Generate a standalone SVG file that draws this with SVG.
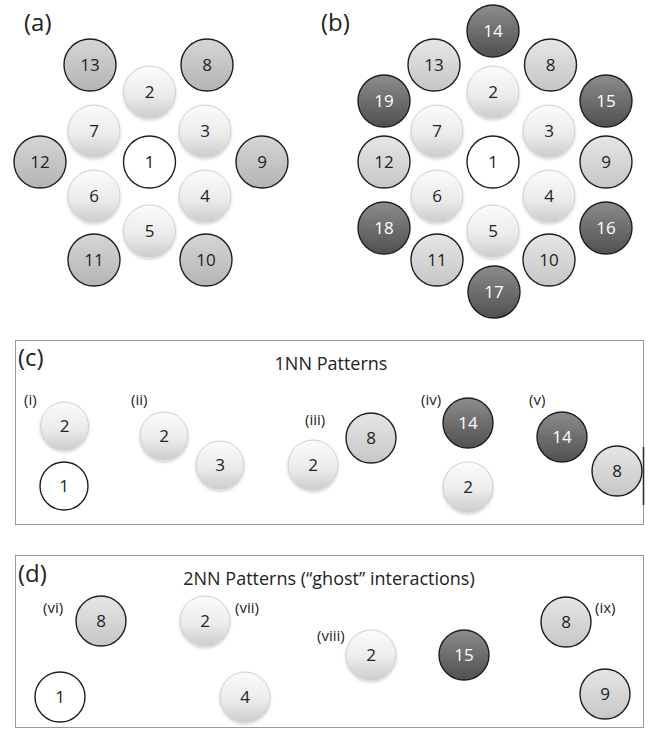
<svg xmlns="http://www.w3.org/2000/svg" width="650" height="733" viewBox="0 0 650 733">
<defs>
<linearGradient id="gLight" x1="0" y1="0" x2="0" y2="1">
<stop offset="0" stop-color="#fbfbfb"/>
<stop offset="0.55" stop-color="#ececec"/>
<stop offset="1" stop-color="#cdcdcd"/>
</linearGradient>
<linearGradient id="gMedA" x1="0" y1="0" x2="0" y2="1">
<stop offset="0" stop-color="#d6d6d6"/>
<stop offset="1" stop-color="#b4b4b4"/>
</linearGradient>
<linearGradient id="gMedB" x1="0" y1="0" x2="0" y2="1">
<stop offset="0" stop-color="#e6e6e6"/>
<stop offset="1" stop-color="#c6c6c6"/>
</linearGradient>
<linearGradient id="gDark" x1="0" y1="0" x2="0" y2="1">
<stop offset="0" stop-color="#8c8c8c"/>
<stop offset="1" stop-color="#505050"/>
</linearGradient>
<filter id="sh" x="-20%" y="-20%" width="140%" height="150%">
<feDropShadow dx="0" dy="2" stdDeviation="1.5" flood-color="#000" flood-opacity="0.18"/>
</filter>
</defs>
<style>
text{font-family:"Open Sans","Liberation Sans",sans-serif;fill:#222;}
.n{font-size:17px;text-anchor:middle;}
.w{fill:#ffffff;}
.lab{font-size:24px;}
.sub{font-size:15px;}
.ttl{font-size:18px;text-anchor:middle;}
.cW{fill:#ffffff;stroke:#1e1e1e;stroke-width:1.4;}
.cL{fill:url(#gLight);stroke:#cfcfcf;stroke-width:1;filter:url(#sh);}
.cMa{fill:url(#gMedA);stroke:#1e1e1e;stroke-width:1.4;}
.cMb{fill:url(#gMedB);stroke:#1e1e1e;stroke-width:1.4;}
.cD{fill:url(#gDark);stroke:#1e1e1e;stroke-width:1.4;}
.box{fill:none;stroke:#9a9a9a;stroke-width:1;}
</style>
<rect width="650" height="733" fill="#ffffff"/>

<!-- Panel (a) -->
<text class="lab" x="24" y="31">(a)</text>
<g id="a13"><circle class="cMa" cx="90" cy="65" r="26"/><text class="n" x="90" y="71">13</text></g>
<g id="a8"><circle class="cMa" cx="207" cy="65" r="26"/><text class="n" x="207" y="71">8</text></g>
<g id="a2"><circle class="cL" cx="149.5" cy="92" r="26"/><text class="n" x="149.5" y="98">2</text></g>
<g id="a7"><circle class="cL" cx="94" cy="131" r="26"/><text class="n" x="94" y="137">7</text></g>
<g id="a3"><circle class="cL" cx="205" cy="131" r="26"/><text class="n" x="205" y="137">3</text></g>
<g id="a12"><circle class="cMa" cx="40" cy="162" r="26"/><text class="n" x="40" y="168">12</text></g>
<g id="a1"><circle class="cW" cx="149.5" cy="162" r="26"/><text class="n" x="149.5" y="168">1</text></g>
<g id="a9"><circle class="cMa" cx="262" cy="162" r="26"/><text class="n" x="262" y="168">9</text></g>
<g id="a6"><circle class="cL" cx="94" cy="196" r="26"/><text class="n" x="94" y="202">6</text></g>
<g id="a4"><circle class="cL" cx="205" cy="196" r="26"/><text class="n" x="205" y="202">4</text></g>
<g id="a5"><circle class="cL" cx="149.5" cy="231" r="26"/><text class="n" x="149.5" y="237">5</text></g>
<g id="a11"><circle class="cMa" cx="94" cy="260" r="26"/><text class="n" x="94" y="266">11</text></g>
<g id="a10"><circle class="cMa" cx="206" cy="260" r="26"/><text class="n" x="206" y="266">10</text></g>

<!-- Panel (b) -->
<text class="lab" x="321" y="31">(b)</text>
<g id="b14"><circle class="cD" cx="493" cy="31" r="26"/><text class="n w" x="493" y="37">14</text></g>
<g id="b13"><circle class="cMb" cx="434" cy="65" r="26"/><text class="n" x="434" y="71">13</text></g>
<g id="b8"><circle class="cMb" cx="550.5" cy="65" r="26"/><text class="n" x="550.5" y="71">8</text></g>
<g id="b19"><circle class="cD" cx="384" cy="101" r="26"/><text class="n w" x="384" y="107">19</text></g>
<g id="b2"><circle class="cL" cx="493" cy="92" r="26"/><text class="n" x="493" y="98">2</text></g>
<g id="b15"><circle class="cD" cx="606" cy="101" r="26"/><text class="n w" x="606" y="107">15</text></g>
<g id="b7"><circle class="cL" cx="437" cy="131" r="26"/><text class="n" x="437" y="137">7</text></g>
<g id="b3"><circle class="cL" cx="549" cy="131" r="26"/><text class="n" x="549" y="137">3</text></g>
<g id="b12"><circle class="cMb" cx="384" cy="162" r="26"/><text class="n" x="384" y="168">12</text></g>
<g id="b1"><circle class="cW" cx="493" cy="162" r="26"/><text class="n" x="493" y="168">1</text></g>
<g id="b9"><circle class="cMb" cx="606" cy="162" r="26"/><text class="n" x="606" y="168">9</text></g>
<g id="b6"><circle class="cL" cx="437" cy="196" r="26"/><text class="n" x="437" y="202">6</text></g>
<g id="b4"><circle class="cL" cx="549" cy="196" r="26"/><text class="n" x="549" y="202">4</text></g>
<g id="b18"><circle class="cD" cx="384" cy="228" r="26"/><text class="n w" x="384" y="234">18</text></g>
<g id="b5"><circle class="cL" cx="493" cy="231" r="26"/><text class="n" x="493" y="237">5</text></g>
<g id="b16"><circle class="cD" cx="606" cy="228" r="26"/><text class="n w" x="606" y="234">16</text></g>
<g id="b11"><circle class="cMb" cx="437" cy="260" r="26"/><text class="n" x="437" y="266">11</text></g>
<g id="b10"><circle class="cMb" cx="549" cy="260" r="26"/><text class="n" x="549" y="266">10</text></g>
<g id="b17"><circle class="cD" cx="494" cy="292" r="26"/><text class="n w" x="494" y="298">17</text></g>

<!-- Panel (c) -->
<g id="c-box">
<rect class="box" x="15.5" y="340.5" width="628" height="184"/>
<line x1="643.5" y1="447" x2="643.5" y2="505" stroke="#333" stroke-width="1.6"/>
</g>
<text class="lab" x="18" y="366">(c)</text>
<text class="ttl" x="331" y="370">1NN Patterns</text>
<text class="sub" x="24" y="405">(i)</text>
<text class="sub" x="131" y="405">(ii)</text>
<text class="sub" x="305" y="425">(iii)</text>
<text class="sub" x="421" y="405">(iv)</text>
<text class="sub" x="529" y="405">(v)</text>
<g id="c-i-2"><circle class="cL" cx="64.5" cy="426" r="24"/><text class="n" x="64.5" y="432">2</text></g>
<g id="c-i-1"><circle class="cW" cx="64" cy="486" r="24"/><text class="n" x="64" y="492">1</text></g>
<g id="c-ii-2"><circle class="cL" cx="164" cy="436" r="24"/><text class="n" x="164" y="442">2</text></g>
<g id="c-ii-3"><circle class="cL" cx="220" cy="465" r="24"/><text class="n" x="220" y="471">3</text></g>
<g id="c-iii-2"><circle class="cL" cx="313" cy="465" r="25"/><text class="n" x="313" y="471">2</text></g>
<g id="c-iii-8"><circle class="cMb" cx="371" cy="438" r="25"/><text class="n" x="371" y="444">8</text></g>
<g id="c-iv-14"><circle class="cD" cx="468" cy="423" r="25"/><text class="n w" x="468" y="429">14</text></g>
<g id="c-iv-2"><circle class="cL" cx="468" cy="487" r="25"/><text class="n" x="468" y="493">2</text></g>
<g id="c-v-14"><circle class="cD" cx="562" cy="437" r="25"/><text class="n w" x="562" y="443">14</text></g>
<g id="c-v-8"><circle class="cMb" cx="617" cy="471" r="25"/><text class="n" x="617" y="477">8</text></g>

<!-- Panel (d) -->
<g id="d-box"><rect class="box" x="15.5" y="555.5" width="628" height="172"/></g>
<text class="lab" x="18" y="582">(d)</text>
<text class="ttl" x="329" y="585">2NN Patterns (“ghost” interactions)</text>
<text class="sub" x="43" y="613">(vi)</text>
<text class="sub" x="235" y="613">(vii)</text>
<text class="sub" x="317" y="641">(viii)</text>
<text class="sub" x="595" y="613">(ix)</text>
<g id="d-vi-8"><circle class="cMb" cx="101" cy="621" r="25"/><text class="n" x="101" y="627">8</text></g>
<g id="d-vi-1"><circle class="cW" cx="60" cy="697" r="25"/><text class="n" x="60" y="703">1</text></g>
<g id="d-vii-2"><circle class="cL" cx="205" cy="621" r="25"/><text class="n" x="205" y="627">2</text></g>
<g id="d-vii-4"><circle class="cL" cx="245" cy="697" r="25"/><text class="n" x="245" y="703">4</text></g>
<g id="d-viii-2"><circle class="cL" cx="371" cy="655" r="25"/><text class="n" x="371" y="661">2</text></g>
<g id="d-viii-15"><circle class="cD" cx="464" cy="655" r="25"/><text class="n w" x="464" y="661">15</text></g>
<g id="d-ix-8"><circle class="cMb" cx="566" cy="622" r="25"/><text class="n" x="566" y="628">8</text></g>
<g id="d-ix-9"><circle class="cMb" cx="605" cy="694" r="25"/><text class="n" x="605" y="700">9</text></g>
</svg>
